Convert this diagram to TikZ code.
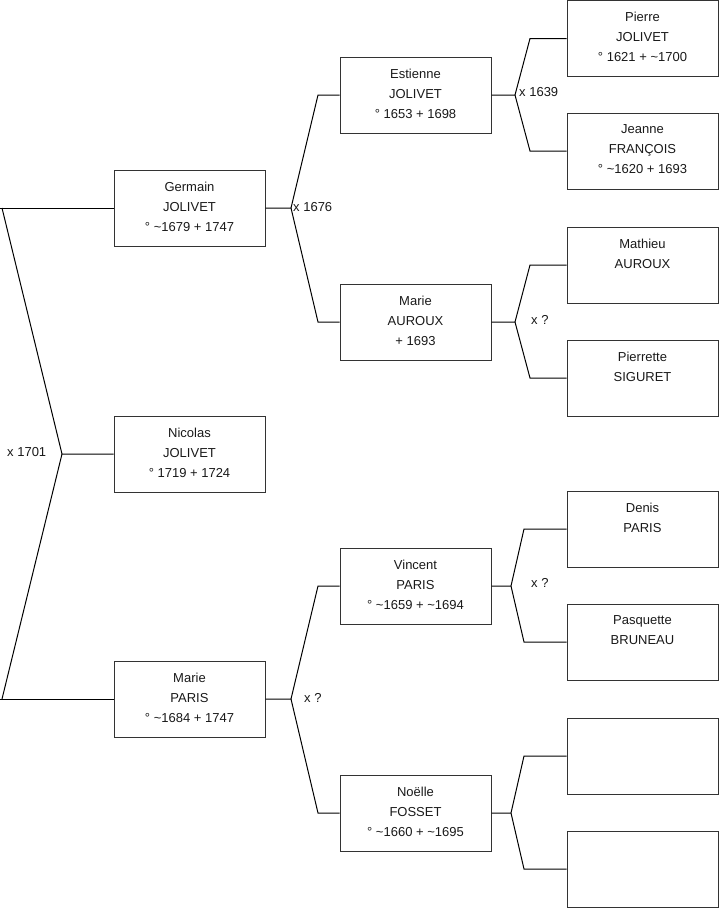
\documentclass[tikz,border=0pt]{standalone}
\usepackage{fontspec}
\setmainfont{Liberation Sans}
\begin{document}
\begin{tikzpicture}[x=1pt,y=-1pt,
  person/.style={draw=black!80, line width=1pt, rectangle, inner sep=0pt,
    minimum width=151pt, minimum height=76pt, text=black!90},
  link/.style={draw=black, line width=1pt},
  marr/.style={inner sep=0pt, text=black!90, font=\fontsize{13}{15}\selectfont}]
\newcommand{\ptext}[1]{\parbox[c][76pt][t]{151pt}{\centering\fontsize{13}{20}\selectfont\vspace*{11.8pt}#1\par}}
\useasboundingbox (0,0) rectangle (719,908);
% column 1
\node[person] (germain) at (189.5,208) {\ptext{Germain\\JOLIVET\\° \textasciitilde1679 + 1747}};
\node[person] (nicolas) at (189.5,454) {\ptext{Nicolas\\JOLIVET\\° 1719 + 1724}};
\node[person] (marieP) at (189.5,699) {\ptext{Marie\\PARIS\\° \textasciitilde1684 + 1747}};
% column 2
\node[person] (estienne) at (415.5,95) {\ptext{Estienne\\JOLIVET\\° 1653 + 1698}};
\node[person] (marieA) at (415.5,322) {\ptext{Marie\\AUROUX\\+ 1693}};
\node[person] (vincent) at (415.5,586) {\ptext{Vincent\\PARIS\\° \textasciitilde1659 + \textasciitilde1694}};
\node[person] (noelle) at (415.5,813) {\ptext{Noëlle\\FOSSET\\° \textasciitilde1660 + \textasciitilde1695}};
% column 3
\node[person] (pierre) at (642.5,38.5) {\ptext{Pierre\\JOLIVET\\° 1621 + \textasciitilde1700}};
\node[person] (jeanne) at (642.5,151) {\ptext{Jeanne\\FRANÇOIS\\° \textasciitilde1620 + 1693}};
\node[person] (mathieu) at (642.5,265) {\ptext{Mathieu\\AUROUX}};
\node[person] (pierrette) at (642.5,378) {\ptext{Pierrette\\SIGURET}};
\node[person] (denis) at (642.5,529) {\ptext{Denis\\PARIS}};
\node[person] (pasquette) at (642.5,642) {\ptext{Pasquette\\BRUNEAU}};
\node[person] (empty1) at (642.5,756) {\ptext{}};
\node[person] (empty2) at (642.5,869) {\ptext{}};
% fork coordinates
\coordinate (f0) at (62,454);
\coordinate (f0a) at (2,208);
\coordinate (f0b) at (2,699);
\coordinate (f1) at (291,208);
\coordinate (f1a) at (318,95);
\coordinate (f1b) at (318,322);
\coordinate (f2) at (291,699);
\coordinate (f2a) at (318,586);
\coordinate (f2b) at (318,813);
\coordinate (f3) at (515,95);
\coordinate (f3a) at (530,38.5);
\coordinate (f3b) at (530,151);
\coordinate (f4) at (515,322);
\coordinate (f4a) at (530,265);
\coordinate (f4b) at (530,378);
\coordinate (f5) at (511,586);
\coordinate (f5a) at (524,529);
\coordinate (f5b) at (524,642);
\coordinate (f6) at (511,813);
\coordinate (f6a) at (524,756);
\coordinate (f6b) at (524,869);
\coordinate (g0) at (0,208);
\coordinate (g1) at (0,699);
% connectors
\draw[link] (nicolas.west) -- (f0) -- (f0a);
\draw[link] (f0) -- (f0b);
\draw[link] (g0) -- (germain.west);
\draw[link] (g1) -- (marieP.west);
\draw[link] (germain.east) -- (f1) -- (f1a) -- (estienne.west);
\draw[link] (f1) -- (f1b) -- (marieA.west);
\draw[link] (marieP.east) -- (f2) -- (f2a) -- (vincent.west);
\draw[link] (f2) -- (f2b) -- (noelle.west);
\draw[link] (estienne.east) -- (f3) -- (f3a) -- (pierre.west);
\draw[link] (f3) -- (f3b) -- (jeanne.west);
\draw[link] (marieA.east) -- (f4) -- (f4a) -- (mathieu.west);
\draw[link] (f4) -- (f4b) -- (pierrette.west);
\draw[link] (vincent.east) -- (f5) -- (f5a) -- (denis.west);
\draw[link] (f5) -- (f5b) -- (pasquette.west);
\draw[link] (noelle.east) -- (f6) -- (f6a) -- (empty1.west);
\draw[link] (f6) -- (f6b) -- (empty2.west);
% marriage labels
\node[marr, anchor=west] (m0) at (7,452) {x 1701};
\node[marr, anchor=west] (m1) at (293,207) {x 1676};
\node[marr, anchor=west] (m2) at (304,698) {x ?};
\node[marr, anchor=west] (m3) at (519,92) {x 1639};
\node[marr, anchor=west] (m4) at (531,320) {x ?};
\node[marr, anchor=west] (m5) at (531,583) {x ?};
\end{tikzpicture}
\end{document}
